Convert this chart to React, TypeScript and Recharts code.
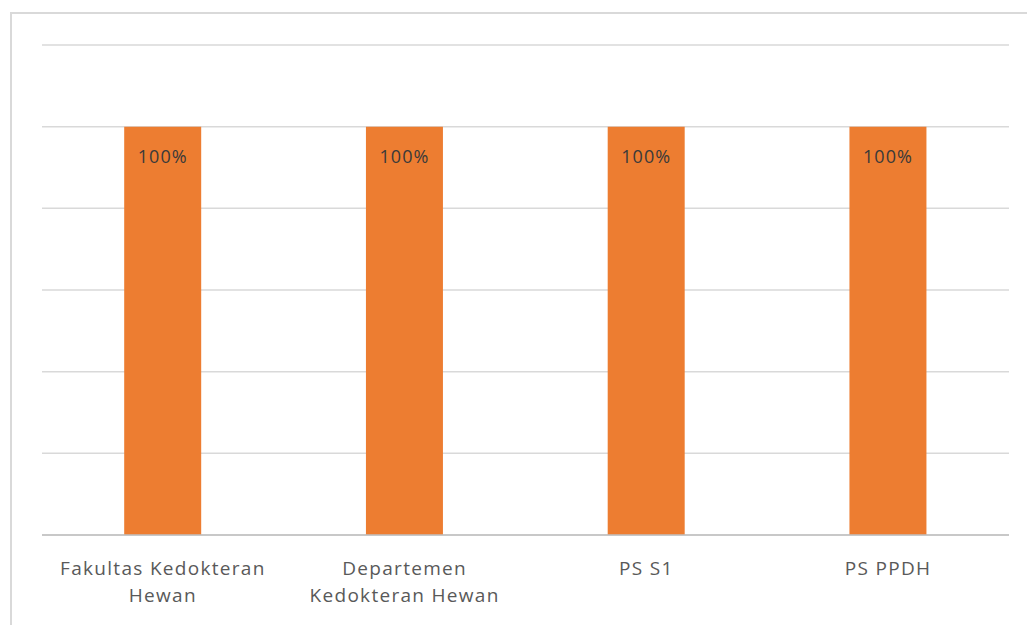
import React from 'react';
import { BarChart, Bar, XAxis, YAxis, CartesianGrid, LabelList } from 'recharts';

const categories = ['Fakultas Kedokteran Hewan', 'Departemen Kedokteran Hewan', 'PS S1', 'PS PPDH'];
const tickLines: string[][] = [
  ['Fakultas Kedokteran', 'Hewan'],
  ['Departemen', 'Kedokteran Hewan'],
  ['PS S1'],
  ['PS PPDH'],
];
const values = [100, 100, 100, 100];
const yTicks = [0, 20, 40, 60, 80, 100, 120];

const data = categories.map((name, i) => ({ name, value: values[i] }));

const FONT = '"Open Sans", Lato, sans-serif';

const CategoryTick = ({ x, y, index }: any) => {
  const lines = tickLines[index] || [];
  return (
    <text x={x} y={y} textAnchor="middle" fill="#595959" fontSize={19} fontFamily={FONT} letterSpacing={1.3}>
      {lines.map((l, i) => (
        <tspan key={i} x={x} dy={i === 0 ? 32 : 27}>
          {l}
        </tspan>
      ))}
    </text>
  );
};

export default function App() {
  return (
    <div style={{ position: 'absolute', left: 0, top: 0, width: 1027, height: 625, background: '#fff', overflow: 'hidden' }}>
      <div
        style={{
          position: 'absolute',
          left: 10,
          top: 12,
          width: 1030,
          height: 640,
          borderTop: '2px solid #d9d9d9',
          borderLeft: '2px solid #d9d9d9',
        }}
      />
      <div style={{ position: 'absolute', left: 0, top: 0 }}>
        <BarChart
          width={1027}
          height={625}
          data={data}
          margin={{ top: 45, right: 18, left: 42, bottom: 0 }}
          barCategoryGap="34%"
        >
          <CartesianGrid vertical={false} stroke="#d9d9d9" strokeWidth={1.5} />
          <XAxis
            dataKey="name"
            height={90}
            axisLine={{ stroke: '#bfbfbf', strokeWidth: 1.5 }}
            tickLine={false}
            tick={<CategoryTick />}
            interval={0}
          />
          <YAxis hide width={0} domain={[0, 120]} ticks={yTicks} />
          <Bar dataKey="value" fill="#ED7D31" isAnimationActive={false}>
            <LabelList
              dataKey="value"
              position="insideTop"
              offset={24}
              formatter={(v: any) => `${v}%`}
              fill="#3a3a3a"
              fontSize={18}
              fontFamily={FONT}
              letterSpacing={1}
            />
          </Bar>
        </BarChart>
      </div>
    </div>
  );
}
